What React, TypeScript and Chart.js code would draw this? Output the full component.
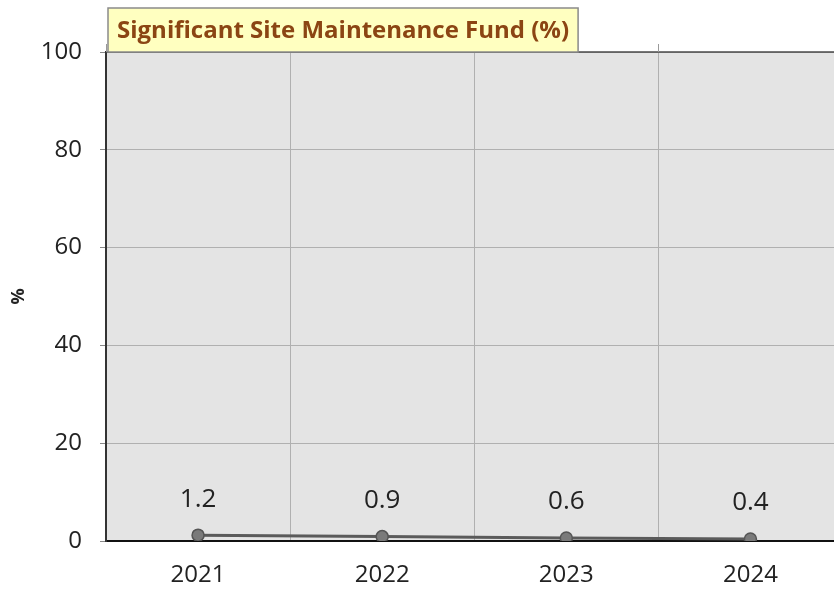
import React, { useEffect, useRef } from "react";
import { Chart, registerables } from "chart.js";

Chart.register(...registerables);

const categories = ["2021", "2022", "2023", "2024"];
const fundValues = [1.2, 0.9, 0.6, 0.4];
const yTicks = [0, 20, 40, 60, 80, 100];
const chartTitle = "Significant Site Maintenance Fund (%)";
const yTitle = "%";

const FONT = "'Open Sans', 'Noto Sans', sans-serif";

const decorPlugin = {
  id: "decor",
  beforeDatasetsDraw(chart: any) {
    const { ctx, chartArea: a } = chart;
    ctx.save();
    ctx.strokeStyle = "#4a4a4a";
    ctx.lineWidth = 1.5;
    ctx.beginPath();
    ctx.moveTo(a.left, a.top);
    ctx.lineTo(a.right, a.top);
    ctx.stroke();
    // small gridline extensions above the plot
    const n = categories.length;
    const step = (a.right - a.left) / n;
    ctx.strokeStyle = "#9a9a9a";
    ctx.lineWidth = 1;
    for (let i = 0; i <= n; i++) {
      const x = Math.round(a.left + i * step) + 0.5;
      ctx.beginPath();
      ctx.moveTo(x, a.top - 8);
      ctx.lineTo(x, a.top);
      ctx.stroke();
    }
    ctx.restore();
  },
  afterDraw(chart: any) {
    const { ctx, chartArea: a } = chart;
    ctx.save();
    const meta = chart.getDatasetMeta(0);
    ctx.font = `26px ${FONT}`;
    ctx.fillStyle = "#222";
    ctx.textAlign = "center";
    ctx.textBaseline = "middle";
    meta.data.forEach((pt: any, i: number) => {
      ctx.fillText(String(fundValues[i]), pt.x, pt.y - 36);
    });
    ctx.font = `bold 24px ${FONT}`;
    const w = ctx.measureText(chartTitle).width;
    const bx = a.left + 2;
    const by = 8;
    const bw = w + 18;
    const bh = 44;
    ctx.fillStyle = "#FFFFC0";
    ctx.fillRect(bx, by, bw, bh);
    ctx.strokeStyle = "#8a8a8a";
    ctx.lineWidth = 1.5;
    ctx.strokeRect(bx, by, bw, bh);
    ctx.fillStyle = "#8B4513";
    ctx.textAlign = "left";
    ctx.textBaseline = "middle";
    ctx.fillText(chartTitle, bx + 9, by + bh / 2 + 1);
    ctx.restore();
  },
};

const bgPlugin = {
  id: "plotbg",
  beforeDraw(chart: any) {
    const { ctx, chartArea: a } = chart;
    ctx.save();
    ctx.fillStyle = "#E4E4E4";
    ctx.fillRect(a.left, a.top, a.right - a.left, a.bottom - a.top);
    ctx.restore();
  },
};

export default function App() {
  const ref = useRef<HTMLCanvasElement>(null);
  useEffect(() => {
    if (!ref.current) return;
    const chart = new Chart(ref.current, {
      type: "line",
      data: {
        labels: categories,
        datasets: [
          {
            data: fundValues,
            borderColor: "#5a5a5a",
            borderWidth: 3,
            pointRadius: 6,
            pointBackgroundColor: "#7a7a7a",
            pointBorderColor: "#555",
            pointBorderWidth: 1.5,
            tension: 0,
          },
        ],
      },
      plugins: [bgPlugin, decorPlugin],
      options: {
        responsive: false,
        animation: false,
        devicePixelRatio: 1,
        layout: { padding: { top: 52, left: 0, right: 0, bottom: 0 } },
        plugins: { legend: { display: false }, tooltip: { enabled: false }, title: { display: false } },
        scales: {
          x: {
            type: "category",
            offset: true,
            grid: { color: "#b0b0b0", lineWidth: 1, offset: true, drawTicks: false },
            border: { color: "#111", width: 2 },
            ticks: { color: "#222", font: { family: FONT, size: 24 }, padding: 20 },
            afterFit(s: any) { s.height = 49; },
          },
          y: {
            min: 0,
            max: 100,
            afterBuildTicks(s: any) { s.ticks = yTicks.map((v) => ({ value: v })); },
            grid: { color: "#b0b0b0", lineWidth: 1, tickLength: 6, tickColor: "#888" },
            border: { color: "#333", width: 2 },
            ticks: { color: "#222", font: { family: FONT, size: 24 }, padding: 18 },
            title: { display: true, text: yTitle, color: "#222", font: { family: FONT, size: 18, weight: "bold" }, padding: { top: 8, bottom: 0 } },
            afterFit(s: any) { s.width = 106; },
          },
        },
      },
    });
    return () => chart.destroy();
  }, []);
  return (
    <div style={{ position: "fixed", left: 0, top: 0, width: 834, height: 590, overflow: "hidden", background: "#fff" }}>
      <canvas ref={ref} width={850} height={590} style={{ display: "block" }} />
    </div>
  );
}
